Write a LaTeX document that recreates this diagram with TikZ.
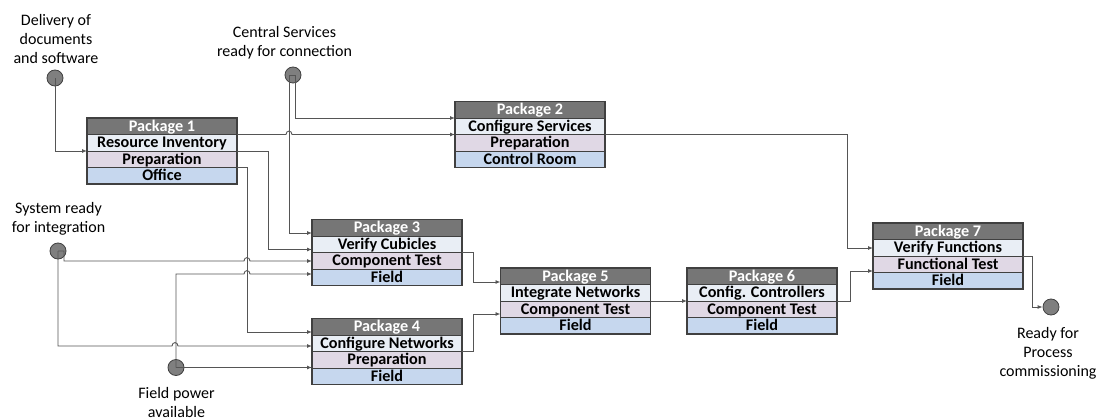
\documentclass[tikz,border=0pt]{standalone}
\usepackage{fontspec}
\setmainfont{Carlito}
\usetikzlibrary{arrows.meta,fit,calc}
\definecolor{hdrgray}{HTML}{767676}
\definecolor{rowone}{HTML}{E9EEF5}
\definecolor{rowtwo}{HTML}{E0D8E5}
\definecolor{rowthree}{HTML}{C6D7EE}
\definecolor{frame}{HTML}{404040}
\definecolor{conngray}{HTML}{555555}
\definecolor{msfill}{HTML}{7F7F7F}
\tikzset{
  rowbase/.style={draw=frame, line width=0.7pt, minimum width=150pt, minimum height=16.5pt,
    text height=12.4pt, text depth=2.8pt,
    inner sep=0pt, outer sep=0pt, font=\fontsize{16.2}{16}\selectfont\bfseries},
  hdr/.style={rowbase, fill=hdrgray, text=white},
  rowa/.style={rowbase, fill=rowone},
  rowb/.style={rowbase, fill=rowtwo},
  rowc/.style={rowbase, fill=rowthree},
  pkgframe/.style={draw=frame, line width=1.6pt, inner sep=0pt, outer sep=0pt},
  milestone/.style={circle, draw=frame, line width=0.8pt, fill=msfill, minimum size=16pt, inner sep=0pt},
  lbl/.style={align=center, font=\fontsize{16}{19}\selectfont, inner sep=0pt},
  conn/.style={draw=conngray, line width=0.9pt, -{Latex[length=5pt,width=4pt]}}
}
\newcommand\pkgbox[7]{%
  \node[hdr, anchor=north west] (#1h) at (#2,#3) {#4};
  \node[rowa, anchor=north] (#1a) at (#1h.south) {#5};
  \node[rowb, anchor=north] (#1b) at (#1a.south) {#6};
  \node[rowc, anchor=north] (#1c) at (#1b.south) {#7};
  \node[pkgframe, fit=(#1h)(#1c)] (#1) {};
}
\begin{document}
\begin{tikzpicture}[x=1pt,y=-1pt]
\useasboundingbox (0,0) rectangle (1097,420);
\fill[white] (0,0) rectangle (1097,420);

% packages
\pkgbox{p1}{87}{118}{Package 1}{Resource Inventory}{Preparation}{Office}
\pkgbox{p2}{455}{101.5}{Package 2}{Configure Services}{Preparation}{Control Room}
\pkgbox{p3}{312}{219.5}{Package 3}{Verify Cubicles}{Component Test}{Field}
\pkgbox{p4}{312}{318.5}{Package 4}{Configure Networks}{Preparation}{Field}
\pkgbox{p5}{500.5}{268}{Package 5}{Integrate Networks}{Component Test}{Field}
\pkgbox{p6}{687}{268}{Package 6}{Config. Controllers}{Component Test}{Field}
\pkgbox{p7}{873}{223}{Package 7}{Verify Functions}{Functional Test}{Field}

% ports
\coordinate (p3i0) at ($(p3.north west)+(0,13.5)$);
\coordinate (p3i1) at ($(p3.north west)+(0,30)$);
\coordinate (p3i2) at ($(p3.north west)+(0,41.5)$);
\coordinate (p3i3) at ($(p3.north west)+(0,54.5)$);
\coordinate (p4i1) at ($(p4.north west)+(0,13.5)$);
\coordinate (p4i2) at ($(p4.north west)+(0,27.5)$);
\coordinate (p4i3) at ($(p4.north west)+(0,49)$);
\coordinate (p5i1) at ($(p5.north west)+(0,14)$);
\coordinate (p5i2) at ($(p5.north west)+(0,46)$);
\coordinate (p7i1) at ($(p7.north west)+(0,25)$);
\coordinate (p7i2) at ($(p7.north west)+(0,48)$);

% milestones
\node[milestone] (m1) at (55,78) {};
\node[milestone] (m2) at (293,75) {};
\node[milestone] (m3) at (58,251) {};
\node[milestone] (m4) at (176,367.5) {};
\node[milestone] (m5) at (1051,307) {};

% labels
\node[lbl] (l1) at (56,39) {Delivery of\\documents\\and software};
\node[lbl] (l2) at (284.5,42.5) {Central Services\\ready for connection};
\node[lbl] (l3) at (58.5,219) {System ready\\for integration};
\node[lbl] (l4) at (176.5,402.5) {Field power\\available};
\node[lbl] (l5) at (1048,353.5) {Ready for\\Process\\commissioning};

% connectors
\draw[conn] (m1.center) |- (p1.west);
\draw[conn] (p1h.south east) -- (286,134.5) .. controls (286,130) and (292,130) .. (292,134.5) -- (p2a.south west);
\draw[conn] (p1a.south east) -| (268,249.5) -- (p3i1);
\draw[conn] (p1b.south east) -| (247,332) -- (p4i1);
\draw[conn] (m2.center) -- ++(-4,0) |- (p3i0);
\draw[conn] (m2.center) -- ++(2,0) |- (p2h.south west);
\draw[conn] (m3.center) -- ++(6,0) -- ++(0,10) -- (244,261) .. controls (244,256.5) and (250,256.5) .. (250,261) -- (p3i2);
\draw[conn] (m3.center) -- (58,346) -- (172,346) .. controls (172,341.5) and (178,341.5) .. (178,346) -- (p4i2);
\draw[conn] (m4.center) -- (176,274) -- (244,274) .. controls (244,269.5) and (250,269.5) .. (250,274) -- (p3i3);
\draw[conn] (m4.center) -- (p4i3);
\draw[conn] (p3a.south east) -| (473,282) -- (p5i1);
\draw[conn] (p4a.south east) -| (473,314) -- (p5i2);
\draw[conn] (p5a.south east) -- (p6a.south west);
\draw[conn] (p6a.south east) -| (850,271) -- (p7i2);
\draw[conn] (p2a.south east) -| (847,248) -- (p7i1);
\draw[conn] (p7a.south east) -| (1032,307) -- (m5.west);
\end{tikzpicture}
\end{document}
